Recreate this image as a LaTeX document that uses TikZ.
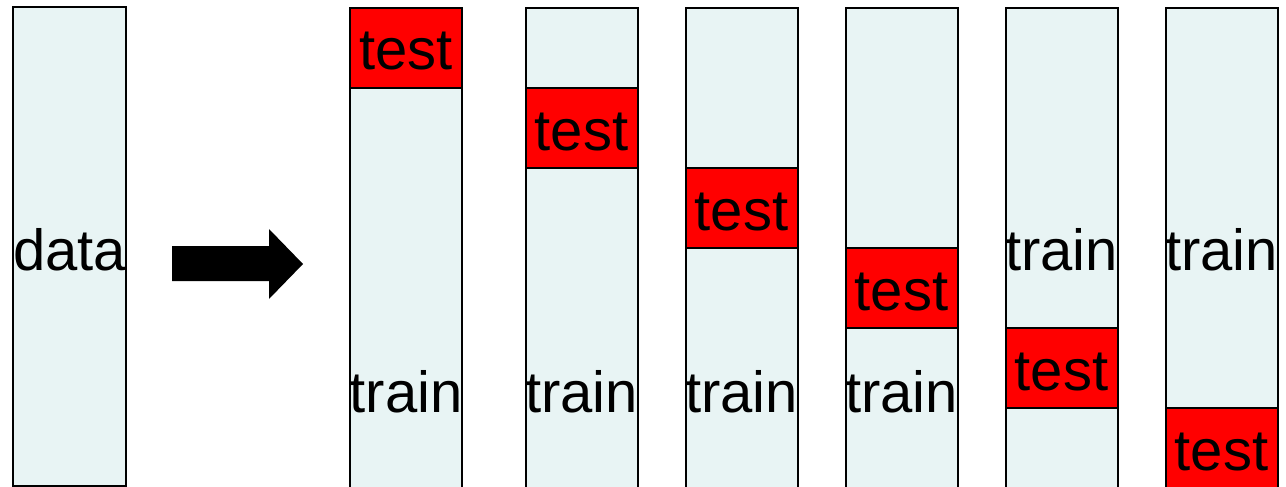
\documentclass[tikz,border=0pt]{standalone}
\usepackage{fontspec}
\setmainfont{Liberation Sans}
\definecolor{paleblue}{HTML}{E8F4F4}
\tikzset{
  column/.style={draw=black, line width=2pt, fill=paleblue, anchor=north west,
    minimum width=112pt, minimum height=480pt, inner sep=0pt, outer sep=0pt},
  datacol/.style={column, line width=2.8pt, minimum width=113pt, minimum height=479pt},
  testbox/.style={draw=black, line width=2pt, fill=red, anchor=north west,
    minimum width=112pt, minimum height=80pt, inner sep=0pt, outer sep=0pt},
  word/.style={font=\fontsize{58}{60}\selectfont, anchor=base, inner sep=0pt, text=black},
}
\begin{document}
\begin{tikzpicture}[x=1pt,y=-1pt]
  \useasboundingbox (0,0) rectangle (1286,487);

  % full data set
  \node[datacol] (data) at (13,7) {};
  \node[word] (datalabel) at (69.5,270) {data};

  % arrow
  \fill[black] (172,246) -- (269,246) -- (269,229) -- (303,264) -- (269,299)
    -- (269,281) -- (172,281) -- cycle;

  % the six folds: left edge, top of test block, baseline of "train"
  \foreach \i/\x/\t/\tr in {1/350/8/412, 2/525.5/88/412, 3/685.5/168/412,
                            4/845.5/248/412, 5/1005.5/328/270, 6/1165.5/408/270} {
    \node[column] (fold\i) at (\x,8) {};
    \node[testbox] (test\i) at (\x,\t) {};
    \node[word] (testlabel\i) at (\x+56,\t+62) {test};
    \node[word] (trainlabel\i) at (\x+56,\tr) {train};
  }
\end{tikzpicture}
\end{document}
